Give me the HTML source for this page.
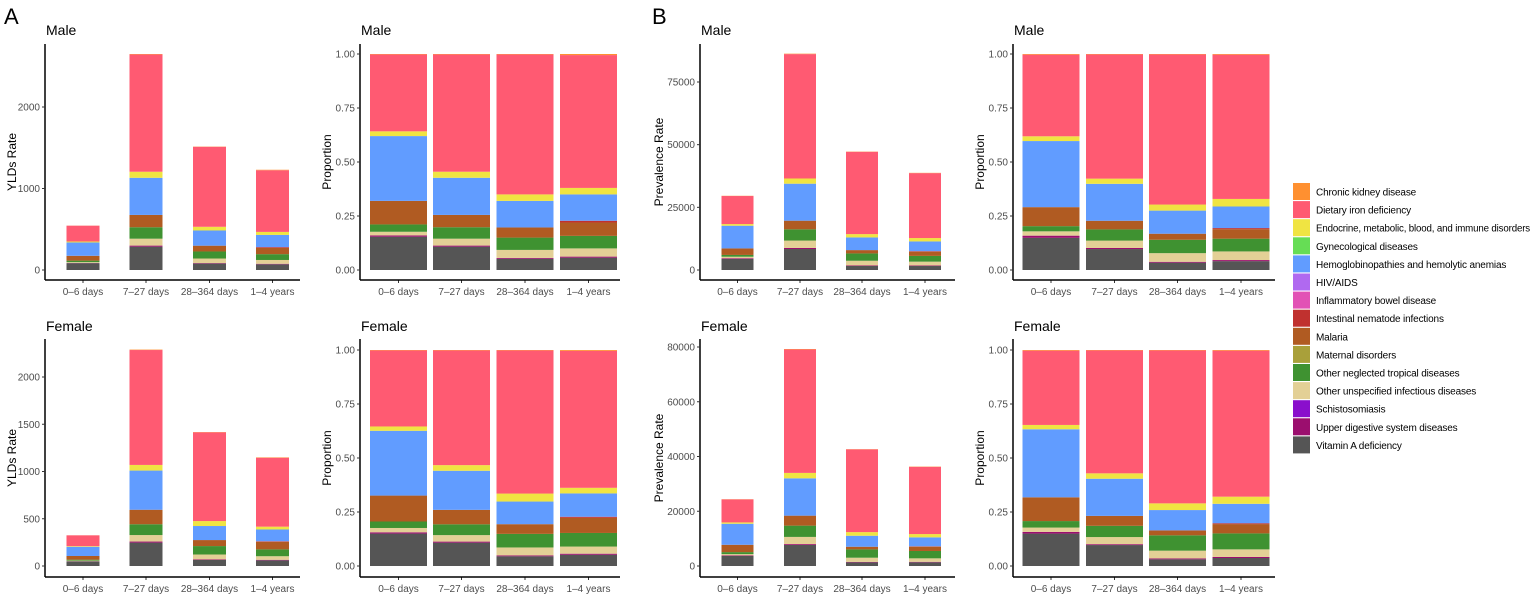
<!DOCTYPE html>
<html><head><meta charset="utf-8"><style>
body{margin:0;background:#fff}
svg{display:block;font-family:"Liberation Sans",sans-serif}
</style></head><body>
<svg id="chart" width="1535" height="596" viewBox="0 0 1535 596" xmlns="http://www.w3.org/2000/svg"></svg>
<script>
const ages = ["0\u20136 days","7\u201327 days","28\u2013364 days","1\u20134 years"];
const cats = ["Vitamin A deficiency","Upper digestive system diseases","Schistosomiasis","Other unspecified infectious diseases","Other neglected tropical diseases","Maternal disorders","Malaria","Intestinal nematode infections","Inflammatory bowel disease","HIV/AIDS","Hemoglobinopathies and hemolytic anemias","Gynecological diseases","Endocrine, metabolic, blood, and immune disorders","Dietary iron deficiency","Chronic kidney disease"];
const colors = ["#555555","#9b0e6e","#8a0fcc","#e3d096","#3f9231","#a9a03a","#b05b22","#c0312f","#e252b5","#b069f0","#619cff","#66dd55","#f0e442","#ff5a72","#ff9030"];

// totals
const totalsAM = [545, 2650, 1515, 1230];
const totalsAF = [325, 2290, 1415, 1150];
const totalsBM = [29600, 86300, 47260, 38760];
const totalsBF = [24390, 79270, 42680, 36340];

// shares, order = cats (each array: 4 age groups)
const sharesAM = [
 [.154,.108,.052,.057],[.006,.005,.004,.005],[0,0,0,0],[.017,.032,.037,.038],[.034,.053,.057,.058],[0,0,0,0],
 [.109,.057,.047,.062],[0,0,0,.008],[0,0,0,0],[0,0,0,0],[.30,.172,.123,.122],[0,0,0,0],[.022,.028,.03,.03],[.356,.543,.648,.615],[.002,.002,.002,.005]];
const sharesAF = [
 [.15,.108,.045,.052],[.006,.005,.004,.005],[0,0,0,0],[.02,.03,.037,.033],[.03,.05,.063,.063],[0,0,0,0],
 [.12,.067,.045,.07],[0,0,0,.005],[0,0,0,0],[0,0,0,0],[.30,.181,.105,.108],[0,0,0,0],[.02,.026,.037,.026],[.352,.531,.664,.634],[.002,.002,.002,.004]];
const sharesBM = [
 [.149,.097,.034,.041],[.01,.005,.004,.005],[0,0,0,0],[.02,.034,.04,.04],[.024,.052,.062,.059],[0,0,0,0],
 [.088,.04,.028,.044],[0,0,0,.005],[0,0,0,0],[0,0,0,0],[.306,.171,.107,.10],[0,0,0,0],[.022,.024,.028,.035],[.378,.575,.695,.668],[.003,.002,.002,.003]];
const sharesBF = [
 [.15,.097,.031,.037],[.008,.004,.004,.005],[0,0,0,0],[.02,.033,.036,.035],[.03,.052,.071,.074],[0,0,0,0],
 [.11,.046,.023,.043],[0,0,0,.004],[0,0,0,0],[0,0,0,0],[.315,.172,.094,.09],[0,0,0,0],[.02,.025,.031,.033],[.344,.569,.708,.676],[.003,.002,.002,.003]];

const ticksAMabs = [0,1000,2000];
const ticksAFabs = [0,500,1000,1500,2000];
const ticksBMabs = [0,25000,50000,75000];
const ticksBFabs = [0,20000,40000,60000,80000];
const ticksProp = [0,0.25,0.5,0.75,1];
const tickLabelsProp = ["0.00","0.25","0.50","0.75","1.00"];

const NS="http://www.w3.org/2000/svg";
const svg=document.getElementById('chart');
function mk(tag,attrs,parent){const e=document.createElementNS(NS,tag);for(const k in attrs)e.setAttribute(k,attrs[k]);(parent||svg).appendChild(e);return e;}

function panel(cfg){
  const g=mk('g',{});
  
  
  const yScale=v=>cfg.y0-(v/cfg.max)*(cfg.y0-cfg.yMaxPx);
  for(let a=0;a<4;a++){
    let cum=0;
    const vals = cats.map((c,ci)=>cfg.shares[ci][a]*(cfg.prop?1:cfg.totals[a]));
    const sum = cfg.prop ? vals.reduce((s,v)=>s+v,0) : 1;
    for(let ci=0;ci<cats.length;ci++){
      const v=vals[ci]/sum; if(v<=0)continue;
      const y1=yScale(cum), y2=yScale(cum+v); cum+=v;
      const r=mk('rect',{x:cfg.centers[a]-cfg.bw/2,y:y2,width:cfg.bw,height:Math.max(0,y1-y2),fill:colors[ci]},g);
      
      
    }
    const t=mk('text',{x:cfg.centers[a],y:cfg.axisY+15,'font-size':'10','text-anchor':'middle',fill:'#4d4d4d'},g);
    t.textContent=ages[a];
    
    
    mk('line',{x1:cfg.centers[a],x2:cfg.centers[a],y1:cfg.axisY,y2:cfg.axisY+3,stroke:'#333','stroke-width':1},g);
  }
  const ya=mk('line',{x1:cfg.axisX,x2:cfg.axisX,y1:cfg.axisTop,y2:cfg.axisY,stroke:'#000','stroke-width':1.5},g);
  
  
  const xa=mk('line',{x1:cfg.axisX,x2:cfg.xEnd,y1:cfg.axisY,y2:cfg.axisY,stroke:'#000','stroke-width':1.5},g);
  
  
  cfg.ticks.forEach((tv,i)=>{
    const y=yScale(tv);
    mk('line',{x1:cfg.axisX-3,x2:cfg.axisX,y1:y,y2:y,stroke:'#333','stroke-width':1},g);
    const t=mk('text',{x:cfg.axisX-5,y:y+3.5,'font-size':'10','text-anchor':'end',fill:'#4d4d4d'},g);
    t.textContent=cfg.tickLabels?cfg.tickLabels[i]:String(tv);
    
    
  });
  const yt=mk('text',{transform:`translate(${cfg.ytX},${(cfg.axisTop+cfg.axisY)/2}) rotate(-90)`,'font-size':'12','text-anchor':'middle',fill:'#000'},g);
  yt.textContent=cfg.ytitle;
  
  
  const tt=mk('text',{x:cfg.axisX+1,y:cfg.titleY,'font-size':'14',fill:'#000'},g);
  tt.textContent=cfg.title;
  
  
}
const absC1=[83,146,209.5,272.5], propC1=[398.5,461.5,525,588.5];
const absC2=[737.5,800,862,925], propC2=[1051,1114.5,1177.5,1241];
const maleRow={y0:270,axisY:280,axisTop:44,titleY:35};
const femRow={y0:566,axisY:577,axisTop:339,titleY:331};
panel({name:'panel-a-male-yld',...maleRow,yMaxPx:107,max:2000,totals:totalsAM,shares:sharesAM,centers:absC1,bw:33,axisX:45,xEnd:300,ticks:ticksAMabs,ytitle:'YLDs Rate',ytX:16,title:'Male'});
panel({name:'panel-a-male-prop',...maleRow,yMaxPx:54,max:1,prop:true,totals:totalsAM,shares:sharesAM,centers:propC1,bw:57,axisX:360,xEnd:620,ticks:ticksProp,tickLabels:tickLabelsProp,ytitle:'Proportion',ytX:331,title:'Male'});
panel({name:'panel-a-female-yld',...femRow,yMaxPx:377,max:2000,totals:totalsAF,shares:sharesAF,centers:absC1,bw:33,axisX:45,xEnd:300,ticks:ticksAFabs,ytitle:'YLDs Rate',ytX:16,title:'Female'});
panel({name:'panel-a-female-prop',...femRow,yMaxPx:350,max:1,prop:true,totals:totalsAF,shares:sharesAF,centers:propC1,bw:57,axisX:360,xEnd:620,ticks:ticksProp,tickLabels:tickLabelsProp,ytitle:'Proportion',ytX:331,title:'Female'});
panel({name:'panel-b-male-prev',...maleRow,yMaxPx:82,max:75000,totals:totalsBM,shares:sharesBM,centers:absC2,bw:32,axisX:700,xEnd:955,ticks:ticksBMabs,ytitle:'Prevalence Rate',ytX:663,title:'Male'});
panel({name:'panel-b-male-prop',...maleRow,yMaxPx:54,max:1,prop:true,totals:totalsBM,shares:sharesBM,centers:propC2,bw:57,axisX:1013,xEnd:1275,ticks:ticksProp,tickLabels:tickLabelsProp,ytitle:'Proportion',ytX:984,title:'Male'});
panel({name:'panel-b-female-prev',...femRow,yMaxPx:347,max:80000,totals:totalsBF,shares:sharesBF,centers:absC2,bw:32,axisX:700,xEnd:955,ticks:ticksBFabs,ytitle:'Prevalence Rate',ytX:663,title:'Female'});
panel({name:'panel-b-female-prop',...femRow,yMaxPx:350,max:1,prop:true,totals:totalsBF,shares:sharesBF,centers:propC2,bw:57,axisX:1013,xEnd:1275,ticks:ticksProp,tickLabels:tickLabelsProp,ytitle:'Proportion',ytX:984,title:'Female'});

[['A',4],['B',652]].forEach(([l,x])=>{
  const t=mk('text',{x:x,y:24,'font-size':'22',fill:'#000'});
  t.textContent=l;
  
  
});
const lg=mk('g',{});


for(let i=0;i<cats.length;i++){
  const ci=cats.length-1-i;
  const y=183+i*18.1;
  const e=mk('g',{},lg);
  
  
  mk('rect',{x:1293,y:y,width:17,height:17,fill:colors[ci]},e);
  const t=mk('text',{x:1316,y:y+12.5,'font-size':'10',fill:'#000','letter-spacing':'-0.15'},e);
  t.textContent=cats[ci];
  if(cats[ci].length>45){t.setAttribute('textLength','214');t.setAttribute('lengthAdjust','spacingAndGlyphs');}
}
</script>
</body></html>
